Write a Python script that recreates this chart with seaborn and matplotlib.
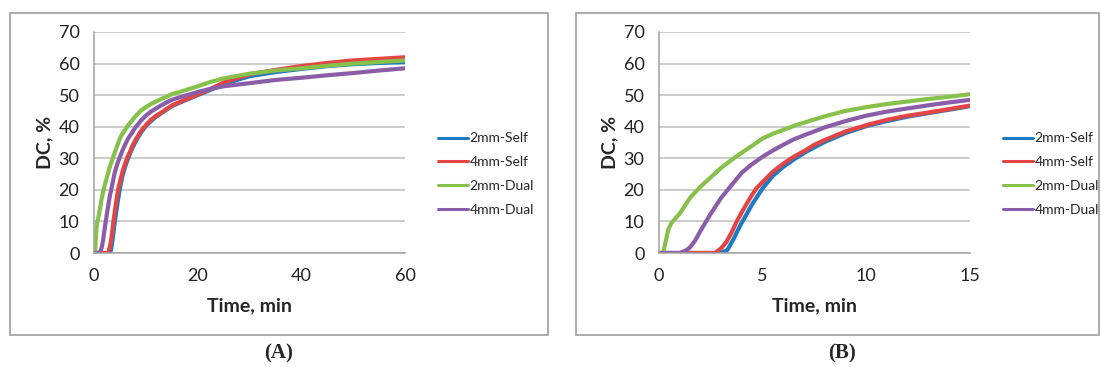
import numpy as np
import pandas as pd
import seaborn as sns
import matplotlib.pyplot as plt
from matplotlib.patches import Rectangle

sns.set_style("white")
plt.rcParams['font.family'] = ['Lato', 'DejaVu Sans']

# degree of conversion (DC, %) vs time (min)
t_2self = [0, 3.0, 3.3, 3.6, 3.9, 4.2, 4.5, 5.0, 5.5, 6.0, 6.5, 7, 7.5, 8, 9, 10, 11, 12, 13, 14, 15,
           17.5, 20, 22.5, 25, 30, 35, 40, 45, 50, 55, 60]
dc_2self = [0, 0, 1, 4.5, 8.5, 12, 15.5, 20.5, 24.5, 27.3, 29.6, 31.7, 33.5, 35.2, 38, 40.2, 41.8, 43.2, 44.3, 45.4, 46.5,
            48.3, 50, 51.7, 53.5, 56, 57.3, 58.3, 59.2, 59.8, 60.2, 60.5]

t_4self = [0, 2.7, 3.0, 3.25, 3.5, 3.75, 4.0, 4.4, 4.7, 5.0, 5.5, 6.0, 6.5, 7, 7.5, 8, 9, 10, 11, 12, 13, 14, 15,
           17.5, 20, 22.5, 25, 30, 35, 40, 45, 50, 55, 60]
dc_4self = [0, 0, 1.5, 3.5, 6.5, 10, 13, 17.5, 20.5, 22.5, 25.8, 28.3, 30.5, 32.3, 34.3, 35.8, 38.5, 40.5, 42.2, 43.5, 44.5, 45.6, 46.7,
            48.5, 50.2, 52, 54, 56.6, 58, 59.2, 60.2, 61, 61.5, 62]

t_2dual = [0, 0.2, 0.3, 0.45, 0.6, 0.8, 1.0, 1.5, 2.0, 2.5, 3.0, 3.5, 4.0, 4.5, 5.0, 5.5, 6.0, 6.6, 7, 8, 9, 10, 11, 12, 13, 14, 15,
           17.5, 20, 22.5, 25, 30, 35, 40, 45, 50, 55, 60]
dc_2dual = [0, 0, 3, 7.5, 9.5, 11, 12.5, 17.5, 21, 24, 27, 29.5, 31.8, 34, 36.3, 37.8, 39, 40.5, 41.3, 43.3, 45, 46.2, 47.2, 48, 48.8, 49.5, 50.3,
            51.5, 52.8, 54.2, 55.3, 56.8, 57.8, 58.5, 59.3, 60, 60.5, 61]

t_4dual = [0, 1.0, 1.3, 1.5, 1.75, 2.0, 2.5, 3.0, 3.5, 4.0, 4.5, 5.0, 5.5, 6.0, 6.5, 7, 8, 9, 10, 11, 12, 13, 14, 15,
           17.5, 20, 22.5, 25, 30, 35, 40, 45, 50, 55, 60]
dc_4dual = [0, 0, 0.8, 1.8, 4, 7, 12.5, 17.5, 21.5, 25.5, 28.2, 30.5, 32.5, 34.3, 36, 37.3, 39.8, 41.8, 43.5, 44.8, 45.8, 46.8, 47.7, 48.5,
            49.8, 51, 52, 52.8, 53.8, 54.8, 55.5, 56.3, 57, 57.8, 58.5]

series = ["2mm-Self", "4mm-Self", "2mm-Dual", "4mm-Dual"]
colors = ["#1C7BC3", "#E34444", "#86C24A", "#8B5DA8"]

df = pd.concat([
    pd.DataFrame({"time": t_2self, "dc": dc_2self, "series": "2mm-Self"}),
    pd.DataFrame({"time": t_4self, "dc": dc_4self, "series": "4mm-Self"}),
    pd.DataFrame({"time": t_2dual, "dc": dc_2dual, "series": "2mm-Dual"}),
    pd.DataFrame({"time": t_4dual, "dc": dc_4dual, "series": "4mm-Dual"}),
], ignore_index=True)

fig = plt.figure(figsize=(11.01, 3.67), dpi=100)

# gray frames round each panel
for x0, x1 in [(10, 548), (576, 1099)]:
    fig.patches.append(Rectangle((x0 / 1101, 1 - 335 / 367), (x1 - x0) / 1101, 322 / 367,
                                 transform=fig.transFigure, fill=False, edgecolor="#A6A6A6", linewidth=1.3))

ax_a = fig.add_axes([94 / 1101, 1 - 253 / 367, 311 / 1101, 221 / 367])
ax_b = fig.add_axes([659 / 1101, 1 - 253 / 367, 311 / 1101, 221 / 367])

for ax, xmax, xt in [(ax_a, 60, [0, 20, 40, 60]), (ax_b, 15, [0, 5, 10, 15])]:
    sns.lineplot(data=df, x="time", y="dc", hue="series", hue_order=series, palette=colors,
                 linewidth=3, ax=ax, legend=True)
    ax.set_xlim(0, xmax)
    ax.set_ylim(0, 70)
    ax.set_xticks(xt)
    ax.set_yticks(range(0, 71, 10))
    ax.yaxis.grid(True, color="#BFBFBF", linewidth=1.1)
    ax.set_axisbelow(True)
    for s in ["top", "right"]:
        ax.spines[s].set_visible(False)
    for s in ["left", "bottom"]:
        ax.spines[s].set_color("#A0A0A0")
        ax.spines[s].set_linewidth(1.1)
    ax.tick_params(axis="both", direction="out", length=4.5, width=1, color="#A0A0A0",
                   labelsize=13, labelcolor="#222222", pad=6)
    ax.set_xlabel("Time, min", fontsize=14, fontweight="bold")
    ax.set_ylabel("DC, %", fontsize=14, fontweight="bold")
    ax.xaxis.set_label_coords(0.5, -0.2)
    ax.yaxis.set_label_coords(-0.13, 0.5)
    handles, labels = ax.get_legend_handles_labels()
    leg = ax.legend(handles, labels, loc="center left", bbox_to_anchor=(1.105, 0.357), frameon=False,
                    fontsize=10, handlelength=2.2, handletextpad=0.1, labelspacing=0.85,
                    borderpad=0, borderaxespad=0)
    for h in leg.get_lines():
        h.set_linewidth(2.2)

fig.text(279 / 1101, 1 - 353 / 367, "(A)", ha="center", va="center", fontsize=15,
         fontweight="bold", family="Liberation Serif")
fig.text(842 / 1101, 1 - 353 / 367, "(B)", ha="center", va="center", fontsize=15,
         fontweight="bold", family="Liberation Serif")

fig.savefig("out.png", dpi=100)
